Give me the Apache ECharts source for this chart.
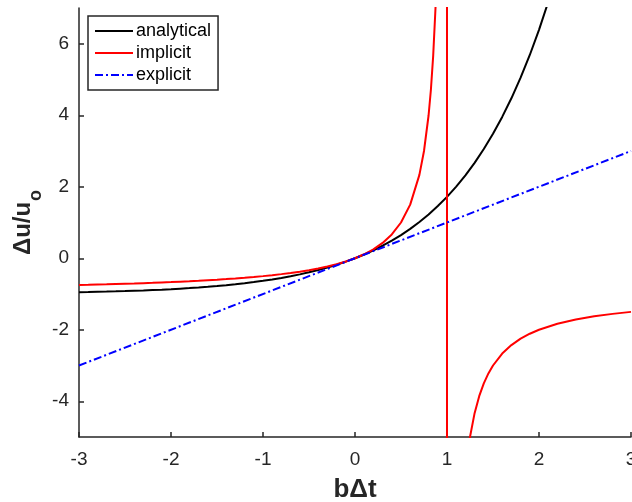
<!DOCTYPE html>
<html><head><meta charset="utf-8">
<script src="https://cdn.jsdelivr.net/npm/echarts@6/dist/echarts.min.js"></script>
<style>html,body{margin:0;padding:0;background:#fff}#c{width:632px;height:502px}</style>
</head><body><div id="c"></div>
<script>
// Analytical: x values and values
const xAnalytical = [-3.0,-2.9,-2.8,-2.7,-2.6,-2.5,-2.4,-2.3,-2.2,-2.1,-2.0,-1.9,-1.8,-1.7,-1.6,-1.5,-1.4,-1.3,-1.2,-1.1,-1.0,-0.9,-0.8,-0.7,-0.6,-0.5,-0.4,-0.3,-0.2,-0.1,0.0,0.1,0.2,0.3,0.4,0.5,0.6,0.7,0.8,0.9,1.0,1.1,1.2,1.3,1.4,1.5,1.6,1.7,1.8,1.9,2.0,2.1];
const yAnalytical = [-0.950,-0.945,-0.939,-0.933,-0.926,-0.918,-0.909,-0.900,-0.889,-0.878,-0.865,-0.850,-0.835,-0.817,-0.798,-0.777,-0.753,-0.727,-0.699,-0.667,-0.632,-0.593,-0.551,-0.503,-0.451,-0.393,-0.330,-0.259,-0.181,-0.095,0.0,0.105,0.221,0.350,0.492,0.649,0.822,1.014,1.226,1.460,1.718,2.004,2.320,2.669,3.055,3.482,3.953,4.474,5.050,5.686,6.389,7.166];
// Implicit
const xImplicit = [-3.0,-2.9,-2.8,-2.7,-2.6,-2.5,-2.4,-2.3,-2.2,-2.1,-2.0,-1.9,-1.8,-1.7,-1.6,-1.5,-1.4,-1.3,-1.2,-1.1,-1.0,-0.9,-0.8,-0.7,-0.6,-0.5,-0.4,-0.3,-0.2,-0.1,0.0,0.1,0.2,0.3,0.4,0.5,0.6,0.7,0.75,0.8,0.825,0.85,0.875,0.9,0.95,0.99,0.999,1.001,1.01,1.1,1.15,1.2,1.25,1.3,1.35,1.4,1.45,1.5,1.6,1.7,1.8,1.9,2.0,2.2,2.4,2.6,2.8,3.0];
const yImplicit = [-0.750,-0.744,-0.737,-0.730,-0.722,-0.714,-0.706,-0.697,-0.688,-0.677,-0.667,-0.655,-0.643,-0.630,-0.615,-0.600,-0.583,-0.565,-0.545,-0.524,-0.500,-0.474,-0.444,-0.412,-0.375,-0.333,-0.286,-0.231,-0.167,-0.091,0.0,0.111,0.250,0.429,0.667,1.000,1.500,2.333,3.000,4.000,4.714,5.667,7.000,9.000,19.0,99.0,999.0,-1001.0,-101.0,-11.0,-7.667,-6.0,-5.0,-4.333,-3.857,-3.5,-3.222,-3.0,-2.667,-2.429,-2.25,-2.111,-2.0,-1.833,-1.714,-1.625,-1.556,-1.5];
// Explicit
const xExplicit = [-3, 3];
const yExplicit = [-3, 3];

const xTicks = [-3,-2,-1,0,1,2,3];
const yTicks = [-4,-2,0,2,4,6];

const zip = (xs, ys) => xs.map((x, i) => [x, ys[i]]);
const axisColor = '#262626';
const font = 'Liberation Sans, Arial, Helvetica, sans-serif';

const chart = echarts.init(document.getElementById('c'), null, {renderer: 'canvas'});
chart.setOption({
  animation: false,
  backgroundColor: '#fff',
  grid: {left: 79, right: 1, top: 8, bottom: 65, containLabel: false, outerBoundsMode: 'none'},
  legend: {
    left: 88, top: 16, orient: 'vertical',
    backgroundColor: '#fff', borderColor: axisColor, borderWidth: 1.5, borderRadius: 0,
    padding: [6, 7, 6, 6], itemGap: 4, itemWidth: 38, itemHeight: 18,
    itemStyle: {opacity: 0},
    textStyle: {fontFamily: font, fontSize: 18, color: '#000', padding: [0,0,0,-2]},
    data: ['analytical', 'implicit', 'explicit']
  },
  xAxis: {
    type: 'value', min: -3, max: 3, interval: 1,
    axisLine: {show: true, onZero: false, lineStyle: {color: axisColor, width: 1.5}},
    axisTick: {show: true, inside: true, length: 5, lineStyle: {color: axisColor, width: 1.5}},
    axisLabel: {color: axisColor, fontFamily: font, fontSize: 19, margin: 13, customValues: xTicks, formatter: v => String(v)},
    splitLine: {show: false},
    name: 'bΔt', nameLocation: 'middle', nameGap: 40, nameMoveOverlap: false,
    nameTextStyle: {fontFamily: font, fontSize: 26, fontWeight: 'bold', color: axisColor}
  },
  yAxis: {
    type: 'value', min: -5, max: 7,
    axisLine: {show: true, onZero: false, lineStyle: {color: axisColor, width: 1.5}},
    axisTick: {show: true, inside: true, length: 5, customValues: yTicks, lineStyle: {color: axisColor, width: 1.5}},
    axisLabel: {color: axisColor, fontFamily: font, fontSize: 19, margin: 10, customValues: yTicks, formatter: v => String(v)},
    splitLine: {show: false},
    name: '{a|Δu/u}{b|o}', nameLocation: 'middle', nameGap: 34, nameRotate: 90, nameMoveOverlap: false,
    nameTextStyle: {
      fontFamily: font, fontSize: 24, fontWeight: 'bold', color: axisColor,
      rich: {
        a: {fontFamily: font, fontSize: 24, fontWeight: 'bold', color: axisColor, verticalAlign: 'top', lineHeight: 34},
        b: {fontFamily: font, fontSize: 18, fontWeight: 'bold', color: axisColor, verticalAlign: 'bottom', lineHeight: 18, padding: [0, 0, 0, 1]}
      }
    }
  },
  series: [
    {name: 'analytical', type: 'line', data: zip(xAnalytical, yAnalytical), showSymbol: false, symbol: 'none',
     lineStyle: {color: '#000', width: 2}, itemStyle: {color: '#000'}, clip: true},
    {name: 'implicit', type: 'line', data: zip(xImplicit, yImplicit), showSymbol: false, symbol: 'none',
     lineStyle: {color: '#ff0000', width: 2}, itemStyle: {color: '#ff0000'}, clip: true},
    {name: 'explicit', type: 'line', data: zip(xExplicit, yExplicit), showSymbol: false, symbol: 'none',
     lineStyle: {color: '#0000ff', width: 2, type: [8, 3, 2, 3]}, itemStyle: {color: '#0000ff'}, clip: true}
  ]
});
</script></body></html>
